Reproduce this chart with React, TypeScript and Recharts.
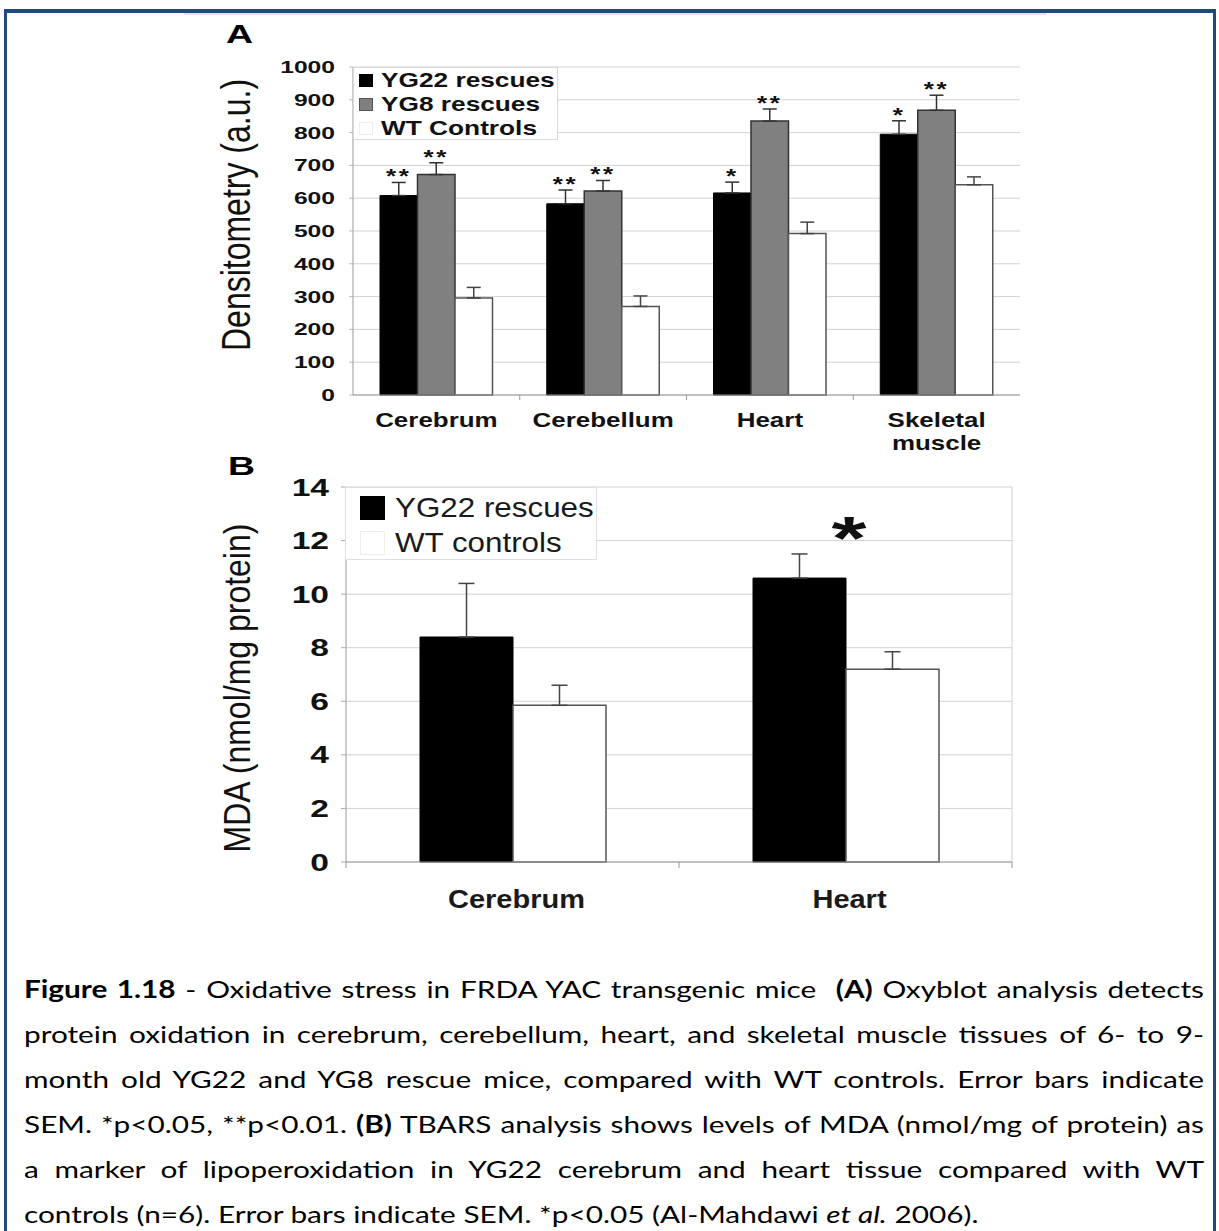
import React from "react";
import { BarChart, Bar, XAxis, YAxis, CartesianGrid, ErrorBar, Legend, LabelList } from "recharts";

// Panel A: oxyblot densitometry
const tissuesA = ["Cerebrum", "Cerebellum", "Heart", "Skeletal muscle"];
const yg22A = [608, 583, 616, 795];
const yg22ErrA = [40, 42, 33, 41];
const yg8A = [672, 622, 835, 868];
const yg8ErrA = [36, 32, 37, 46];
const wtA = [296, 270, 492, 641];
const wtErrA = [32, 32, 35, 24];
const yg22StarsA = ["**", "**", "*", "*"];
const yg8StarsA = ["**", "**", "**", "**"];
const ticksA = [0, 100, 200, 300, 400, 500, 600, 700, 800, 900, 1000];

// Panel B: TBARS / MDA
const tissuesB = ["Cerebrum", "Heart"];
const yg22B = [8.4, 10.6];
const yg22ErrB = [2.0, 0.9];
const wtB = [5.85, 7.2];
const wtErrB = [0.75, 0.65];
const starsB = ["", "*"];
const ticksB = [0, 2, 4, 6, 8, 10, 12, 14];

const legendA = [
  { label: "YG22 rescues", fill: "#000", stroke: "#000" },
  { label: "YG8 rescues", fill: "#808080", stroke: "#555" },
  { label: "WT Controls", fill: "#fff", stroke: "#eee" },
];
const legendB = [
  { label: "YG22 rescues", fill: "#000", stroke: "#000" },
  { label: "WT controls", fill: "#fff", stroke: "#eee" },
];

const dataA = tissuesA.map((t, i) => ({
  tissue: t,
  yg22: yg22A[i],
  yg22Err: [0, yg22ErrA[i]],
  yg22Star: yg22StarsA[i],
  yg8: yg8A[i],
  yg8Err: [0, yg8ErrA[i]],
  yg8Star: yg8StarsA[i],
  wt: wtA[i],
  wtErr: [0, wtErrA[i]],
}));

const dataB = tissuesB.map((t, i) => ({
  tissue: t,
  yg22: yg22B[i],
  yg22Err: [0, yg22ErrB[i]],
  star: starsB[i],
  wt: wtB[i],
  wtErr: [0, wtErrB[i]],
}));

const FONT = "'Liberation Sans', Arial, Helvetica, sans-serif";
const stretch = (x: number, y: number, k: number) => `translate(${x},${y}) scale(${k},1)`;

const box = (p: any) => {
  const vb = p.viewBox || {};
  return {
    x: Number(p.x ?? vb.x),
    y: Number(p.y ?? vb.y),
    w: Number(p.width ?? vb.width),
    h: Number(p.height ?? vb.height),
  };
};

// stars sitting just above each error bar
const starsAbove = (vals: number[], errs: number[]) => (p: any) => {
  const s = p.value;
  if (!s) return null;
  const { x, y, w, h } = box(p);
  const i = p.index;
  const top = y - errs[i] * (h / vals[i]);
  return (
    <text
      transform={stretch(x + w / 2, top + 1, 1.3)}
      textAnchor="middle"
      fontFamily={FONT}
      fontWeight="bold"
      fontSize={20}
      letterSpacing={2}
      fill="#111"
    >
      {s}
    </text>
  );
};

const starB = (p: any) => {
  const s = p.value;
  if (!s) return null;
  const { x, y, w, h } = box(p);
  const i = p.index;
  const top = y - yg22ErrB[i] * (h / yg22B[i]);
  return (
    <text
      transform={stretch(x + w + 3, top + 5, 1.45)}
      textAnchor="middle"
      fontFamily={FONT}
      fontWeight="bold"
      fontSize={62}
      fill="#111"
    >
      {s}
    </text>
  );
};

const bandA = 667 / tissuesA.length;
const bandB = 666 / tissuesB.length;

const TickXA = (p: any) => {
  const lines = String(p.payload.value).split(" ");
  const x = Number(p.x);
  const y = Number(p.y);
  return (
    <g>
      {p.index > 0 && <line x1={x - bandA / 2} x2={x - bandA / 2} y1={y} y2={y + 5} stroke="#999" />}
      {lines.map((l, j) => (
        <text
          key={j}
          transform={stretch(x, y + 32 + j * 23, 1.33)}
          textAnchor="middle"
          fontFamily={FONT}
          fontWeight="bold"
          fontSize={19.5}
          fill="#111"
        >
          {l}
        </text>
      ))}
    </g>
  );
};

const TickYA = (p: any) => (
  <text
    transform={stretch(Number(p.x), Number(p.y) + 6, 1.45)}
    textAnchor="end"
    fontFamily={FONT}
    fontWeight="bold"
    fontSize={17}
    fill="#111"
  >
    {p.payload.value}
  </text>
);

const TickXB = (p: any) => {
  const x = Number(p.x);
  const y = Number(p.y);
  const last = p.index === tissuesB.length - 1;
  return (
    <g>
      <line x1={x - bandB / 2} x2={x - bandB / 2} y1={y} y2={y + 6} stroke="#999" />
      {last && <line x1={x + bandB / 2} x2={x + bandB / 2} y1={y} y2={y + 6} stroke="#999" />}
      <text
        transform={stretch(x + 4, y + 46, 1.16)}
        textAnchor="middle"
        fontFamily={FONT}
        fontWeight="bold"
        fontSize={25}
        fill="#1a1a1a"
      >
        {p.payload.value}
      </text>
    </g>
  );
};

const TickYB = (p: any) => (
  <text
    transform={stretch(Number(p.x), Number(p.y) + 8.5, 1.4)}
    textAnchor="end"
    fontFamily={FONT}
    fontWeight="bold"
    fontSize={24}
    fill="#111"
  >
    {p.payload.value}
  </text>
);

const titleA = () => (
  <g>
    <text transform={stretch(26, 33, 1.5)} fontFamily={FONT} fontWeight="bold" fontSize={25} fill="#000">
      A
    </text>
    <text
      transform={`translate(50,205) scale(1.25,1) rotate(-90)`}
      textAnchor="middle"
      fontFamily={FONT}
      fontSize={32}
      fill="#111"
    >
      Densitometry (a.u.)
    </text>
  </g>
);

const titleB = () => (
  <g>
    <text transform={stretch(28, 25, 1.5)} fontFamily={FONT} fontWeight="bold" fontSize={25} fill="#000">
      B
    </text>
    <text
      transform={`translate(50,238) scale(1.15,1) rotate(-90)`}
      textAnchor="middle"
      fontFamily={FONT}
      fontSize={32}
      fill="#111"
    >
      MDA (nmol/mg protein)
    </text>
  </g>
);

const LegendBoxA = () => (
  <div style={{ position: "relative", width: 205, height: 73, background: "#fff", border: "1px solid #d8d8d8", boxSizing: "border-box" }}>
    {legendA.map((e, i) => (
      <div key={e.label}>
        <div
          style={{
            position: "absolute",
            left: 5,
            top: 13 + i * 24 - 7,
            width: 14,
            height: 13,
            background: e.fill,
            border: `1px solid ${e.stroke}`,
            boxSizing: "border-box",
          }}
        />
        <div
          style={{
            position: "absolute",
            left: 27,
            top: 13 + i * 24 - 13,
            height: 24,
            lineHeight: "24px",
            whiteSpace: "nowrap",
            fontFamily: FONT,
            fontWeight: "bold",
            fontSize: 21,
            color: "#111",
            transform: "scaleX(1.25)",
            transformOrigin: "left center",
          }}
        >
          {e.label}
        </div>
      </div>
    ))}
  </div>
);

const LegendBoxB = () => (
  <div style={{ position: "relative", width: 252, height: 73, background: "#fff", border: "1px solid #e0e0e0", boxSizing: "border-box" }}>
    {legendB.map((e, i) => (
      <div key={e.label}>
        <div
          style={{
            position: "absolute",
            left: 14,
            top: 20 + i * 35 - 12,
            width: 25,
            height: 24,
            background: e.fill,
            border: `1px solid ${e.stroke}`,
            boxSizing: "border-box",
          }}
        />
        <div
          style={{
            position: "absolute",
            left: 49,
            top: 20 + i * 35 - 16,
            height: 32,
            lineHeight: "32px",
            whiteSpace: "nowrap",
            fontFamily: FONT,
            fontSize: 28,
            color: "#1a1a1a",
            transform: "scaleX(1.12)",
            transformOrigin: "left center",
          }}
        >
          {e.label}
        </div>
      </div>
    ))}
  </div>
);

const captionLines = [
  <>
    <b>Figure 1.18</b> - Oxidative stress in FRDA YAC transgenic mice&nbsp; <b>(A)</b> Oxyblot analysis detects
  </>,
  <>protein oxidation in cerebrum, cerebellum, heart, and skeletal muscle tissues of 6- to 9-</>,
  <>month old YG22 and YG8 rescue mice, compared with WT controls. Error bars indicate</>,
  <>
    SEM. *p&lt;0.05, **p&lt;0.01. <b>(B)</b> TBARS analysis shows levels of MDA (nmol/mg of protein) as
  </>,
  <>a marker of lipoperoxidation in YG22 cerebrum and heart tissue compared with WT</>,
  <>
    controls (n=6). Error bars indicate SEM. *p&lt;0.05 (Al-Mahdawi <i>et al.</i> 2006).
  </>,
];

const CAP_K = 1.24;

export default function App() {
  return (
    <div style={{ position: "absolute", left: 0, top: 0, width: 1219, height: 1231, background: "#fff", overflow: "hidden" }}>
      {/* page frame */}
      <div
        style={{
          position: "absolute",
          left: 4,
          top: 9,
          width: 1212,
          height: 1260,
          borderTop: "4px solid #1f4a7f",
          borderLeft: "3px solid #1f4a7f",
          borderRight: "3px solid #1f4a7f",
          boxSizing: "border-box",
        }}
      />
      <div style={{ position: "absolute", left: 184, top: 13, width: 862, height: 2, background: "#e4e4e4" }} />

      <div style={{ position: "absolute", left: 200, top: 10 }}>
        <BarChart width={840} height={460} data={dataA} margin={{ top: 57, right: 20, left: 0, bottom: 0 }} barGap={0} barSize={37.5}>
          <CartesianGrid vertical={false} stroke="#d2d2d2" />
          <XAxis
            dataKey="tissue"
            height={75}
            interval={0}
            tickSize={0}
            tickMargin={0}
            tickLine={false}
            axisLine={{ stroke: "#999" }}
            tick={(p: any) => <TickXA {...p} />}
          />
          <YAxis
            width={153}
            domain={[0, 1000]}
            ticks={ticksA}
            interval={0}
            tickSize={4}
            tickMargin={14}
            axisLine={{ stroke: "#999" }}
            tickLine={{ stroke: "#bbb" }}
            tick={(p: any) => <TickYA {...p} />}
            label={{ content: titleA }}
          />
          <Legend
            layout="vertical"
            align="center"
            verticalAlign="middle"
            wrapperStyle={{ position: "absolute", left: 153, top: 57, width: 205, height: 73 }}
            content={() => <LegendBoxA />}
          />
          <Bar dataKey="yg22" fill="#000" stroke="#000" isAnimationActive={false}>
            <ErrorBar dataKey="yg22Err" width={7} stroke="#333" strokeWidth={1.5} />
            <LabelList dataKey="yg22Star" content={starsAbove(yg22A, yg22ErrA)} />
          </Bar>
          <Bar dataKey="yg8" fill="#808080" stroke="#333" strokeWidth={1.5} isAnimationActive={false}>
            <ErrorBar dataKey="yg8Err" width={7} stroke="#333" strokeWidth={1.5} />
            <LabelList dataKey="yg8Star" content={starsAbove(yg8A, yg8ErrA)} />
          </Bar>
          <Bar dataKey="wt" fill="#fff" stroke="#555" strokeWidth={1.5} isAnimationActive={false}>
            <ErrorBar dataKey="wtErr" width={7} stroke="#444" strokeWidth={1.5} />
          </Bar>
        </BarChart>
      </div>

      <div style={{ position: "absolute", left: 200, top: 450 }}>
        <BarChart width={832} height={470} data={dataB} margin={{ top: 37, right: 20, left: 0, bottom: 0 }} barGap={0} barSize={93}>
          <CartesianGrid
            stroke="#d2d2d2"
            verticalCoordinatesGenerator={({ offset }: any) => [offset.left + offset.width]}
          />
          <XAxis
            dataKey="tissue"
            height={58}
            interval={0}
            tickSize={0}
            tickMargin={0}
            tickLine={false}
            axisLine={{ stroke: "#999" }}
            tick={(p: any) => <TickXB {...p} />}
          />
          <YAxis
            width={146}
            domain={[0, 14]}
            ticks={ticksB}
            interval={0}
            tickSize={5}
            tickMargin={12}
            axisLine={{ stroke: "#999" }}
            tickLine={{ stroke: "#aaa" }}
            tick={(p: any) => <TickYB {...p} />}
            label={{ content: titleB }}
          />
          <Legend
            layout="vertical"
            align="center"
            verticalAlign="middle"
            wrapperStyle={{ position: "absolute", left: 145, top: 37, width: 252, height: 73 }}
            content={() => <LegendBoxB />}
          />
          <Bar dataKey="yg22" fill="#000" stroke="#000" isAnimationActive={false}>
            <ErrorBar dataKey="yg22Err" width={8} stroke="#444" strokeWidth={1.5} />
            <LabelList dataKey="star" content={starB} />
          </Bar>
          <Bar dataKey="wt" fill="#fff" stroke="#555" strokeWidth={1.5} isAnimationActive={false}>
            <ErrorBar dataKey="wtErr" width={8} stroke="#444" strokeWidth={1.5} />
          </Bar>
        </BarChart>
      </div>

      <div
        style={{
          position: "absolute",
          left: 24,
          top: 966,
          width: 1180 / CAP_K,
          transform: `scaleX(${CAP_K})`,
          transformOrigin: "left top",
          fontFamily: "Lato, 'Open Sans', sans-serif",
          fontSize: 24,
          color: "#000",
        }}
      >
        {captionLines.map((l, i) => {
          const last = i === captionLines.length - 1;
          return (
            <div
              key={i}
              style={{
                height: 45,
                lineHeight: "45px",
                textAlign: last ? "left" : "justify",
                textAlignLast: last ? "left" : "justify",
                whiteSpace: "nowrap",
              }}
            >
              {l}
            </div>
          );
        })}
      </div>
    </div>
  );
}
